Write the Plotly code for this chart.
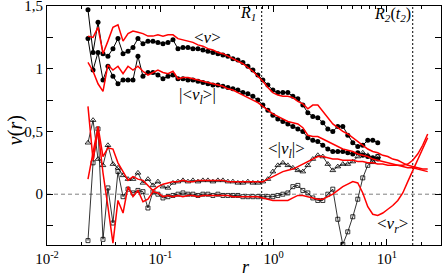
import math
import plotly.graph_objects as go

# radial grid (data points) and extended grid for the model curves
r_data = [0.0230, 0.0255, 0.0282, 0.0312, 0.0345, 0.0382, 0.0423, 0.0469, 0.0519, 0.0574,
          0.0635, 0.0703, 0.0778, 0.0861, 0.0953, 0.1056, 0.1169, 0.1294, 0.1432, 0.1585,
          0.1754, 0.1941, 0.2149, 0.2378, 0.2632, 0.2913, 0.3225, 0.3570, 0.3951, 0.4373,
          0.4840, 0.5358, 0.5930, 0.6564, 0.7265, 0.8041, 0.8900, 0.9851, 1.090, 1.207,
          1.336, 1.479, 1.637, 1.812, 2.005, 2.219, 2.456, 2.719, 3.010, 3.331,
          3.687, 4.081, 4.517, 5.000, 5.534, 6.125, 6.780, 7.504, 8.306]
r_model = r_data + [9.20, 10.19, 11.27, 12.48, 13.81, 15.28, 16.91, 18.71, 20.70, 22.91]

# <v>  (filled circles)
v_mean = [1.47, 1.13, 1.37, 1.12, 1.10, 1.16, 1.24, 1.12, 1.14, 1.17,
          1.24, 1.20, 1.22, 1.22, 1.21, 1.20, 1.21, 1.23, 1.16, 1.17,
          1.17, 1.16, 1.16, 1.15, 1.14, 1.13, 1.12, 1.11, 1.10, 1.08,
          1.07, 1.05, 1.02, 0.99, 0.95, 0.91, 0.87, 0.83, 0.81, 0.81,
          0.81, 0.78, 0.76, 0.71, 0.65, 0.62, 0.61, 0.57, 0.52, 0.50,
          0.54, 0.54, 0.47, 0.41, 0.38, 0.39, 0.43, 0.43, 0.41]
# |<v_l>|  (filled circles)
vl_abs_of_mean = [1.24, 0.99, 1.13, 0.91, 1.02, 0.94, 0.88, 0.91, 0.91, 0.91,
                  1.10, 0.94, 0.97, 0.97, 0.95, 0.92, 0.94, 0.95, 0.92, 0.92,
                  0.91, 0.91, 0.90, 0.89, 0.88, 0.87, 0.87, 0.86, 0.85, 0.84,
                  0.83, 0.81, 0.80, 0.78, 0.75, 0.71, 0.67, 0.63, 0.60, 0.58,
                  0.56, 0.54, 0.52, 0.50, 0.45, 0.43, 0.42, 0.39, 0.36, 0.34,
                  0.34, 0.34, 0.33, 0.32, 0.33, 0.31, 0.30, 0.29, 0.28]
# <|v_l|>  (open triangles)
vl_mean_of_abs = [0.41, 0.59, 0.28, 0.23, 0.39, 0.24, 0.21, 0.15, 0.12, 0.12,
                  0.17, 0.09, 0.12, 0.07, 0.10, 0.06, 0.05, 0.09, 0.10, 0.11,
                  0.10, 0.11, 0.10, 0.11, 0.11, 0.10, 0.11, 0.11, 0.10, 0.10,
                  0.09, 0.09, 0.10, 0.09, 0.09, 0.10, 0.12, 0.18, 0.23, 0.25,
                  0.23, 0.21, 0.19, 0.18, 0.23, 0.28, 0.31, 0.30, 0.24, 0.19,
                  0.22, 0.24, 0.24, 0.26, 0.30, 0.33, 0.31, 0.26, 0.30]
# <v_r>  (open squares)
vr_mean = [-0.37, 0.25, 0.52, -0.36, 0.05, -0.23, 0.18, -0.02, 0.04, 0.01,
           0.03, 0.02, -0.11, 0.02, 0.00, -0.03, -0.02, -0.01, 0.00, 0.01,
           0.00, 0.00, -0.01, 0.00, 0.00, -0.01, 0.00, -0.01, -0.01, -0.01,
           -0.01, -0.02, -0.02, -0.02, -0.02, -0.02, -0.02, -0.02, -0.01, 0.00,
           0.01, 0.06, 0.07, 0.03, 0.01, -0.03, -0.05, -0.05, 0.00, 0.04,
           -0.20, -0.40, -0.30, -0.18, -0.04, 0.13, 0.23, 0.26, 0.30]

# model curves (red)
model_v_mean = [1.26, 1.25, 1.33, 1.12, 1.22, 1.33, 1.35, 1.22, 1.28, 1.30,
                1.29, 1.28, 1.26, 1.26, 1.27, 1.26, 1.27, 1.27, 1.24, 1.23,
                1.22, 1.21, 1.19, 1.18, 1.16, 1.15, 1.13, 1.12, 1.10, 1.08,
                1.06, 1.04, 1.01, 0.98, 0.94, 0.90, 0.85, 0.81, 0.79, 0.78,
                0.78, 0.77, 0.74, 0.72, 0.68, 0.71, 0.71, 0.66, 0.61, 0.56,
                0.53, 0.50, 0.48, 0.45, 0.42, 0.39, 0.36, 0.34, 0.33, 0.31,
                0.30, 0.28, 0.27, 0.25, 0.23, 0.22, 0.21, 0.20, 0.20]
model_vl_abs_of_mean = [1.05, 0.98, 0.88, 0.82, 1.03, 0.99, 1.02, 0.96, 1.02, 0.99,
                        1.02, 0.98, 0.95, 0.97, 0.99, 0.97, 0.96, 0.98, 0.92, 0.93,
                        0.93, 0.92, 0.91, 0.90, 0.89, 0.88, 0.87, 0.86, 0.84, 0.83,
                        0.81, 0.79, 0.77, 0.75, 0.73, 0.70, 0.67, 0.64, 0.62, 0.60,
                        0.58, 0.57, 0.56, 0.53, 0.47, 0.46, 0.46, 0.44, 0.42, 0.40,
                        0.38, 0.36, 0.35, 0.34, 0.32, 0.31, 0.30, 0.28, 0.27, 0.26,
                        0.25, 0.24, 0.23, 0.22, 0.21, 0.21, 0.20, 0.19, 0.18]
model_vl_mean_of_abs = [0.12, 0.33, 0.54, 0.30, 0.37, 0.36, 0.25, 0.18, 0.11, 0.14,
                        0.12, 0.11, 0.07, 0.03, 0.06, 0.08, 0.09, 0.10, 0.10, 0.11,
                        0.10, 0.10, 0.11, 0.11, 0.11, 0.11, 0.11, 0.11, 0.10, 0.10,
                        0.10, 0.10, 0.10, 0.10, 0.10, 0.10, 0.12, 0.14, 0.16, 0.18,
                        0.19, 0.20, 0.22, 0.24, 0.26, 0.28, 0.30, 0.30, 0.29, 0.28,
                        0.28, 0.27, 0.27, 0.27, 0.26, 0.26, 0.25, 0.25, 0.24, 0.24,
                        0.23, 0.23, 0.23, 0.23, 0.24, 0.27, 0.32, 0.39, 0.48]
model_vr_mean = [0.70, 0.27, 0.51, 0.17, -0.10, -0.39, -0.05, -0.15, 0.06, -0.02,
                 0.03, -0.06, -0.04, 0.02, 0.01, -0.02, -0.01, -0.02, -0.01, -0.02,
                 -0.01, -0.01, -0.02, -0.01, -0.01, -0.01, -0.01, -0.01, -0.01, -0.02,
                 -0.02, -0.02, -0.02, -0.02, -0.02, -0.03, -0.04, -0.05, -0.05, -0.05,
                 -0.05, -0.03, -0.01, -0.01, -0.02, -0.03, -0.04, -0.04, -0.02, 0.00,
                 0.03, 0.06, 0.08, 0.10, 0.09, 0.01, -0.10, -0.16, -0.17, -0.15,
                 -0.12, -0.09, -0.05, 0.01, 0.10, 0.19, 0.28, 0.36, 0.45]

R1 = 0.785
R2 = 16.9
x_min, x_max = 0.01, 30.0
y_min, y_max = -0.405, 1.5

y_ticks = [0, 0.5, 1, 1.5]
y_labels = ["0", "0,5", "1", "1,5"]
x_ticks = [0.01, 0.1, 1, 10]
x_labels = ["10<sup>-2</sup>", "10<sup>-1</sup>", "10<sup>0</sup>", "10<sup>1</sup>"]

FONT = "Liberation Serif"
fig = go.Figure()

# reference lines
fig.add_trace(go.Scatter(x=[x_min, x_max], y=[0, 0], mode="lines",
                         line=dict(color="#808080", width=1, dash="4px,3px"), hoverinfo="skip"))
for rr in (R1, R2):
    fig.add_trace(go.Scatter(x=[rr, rr], y=[y_min, y_max], mode="lines",
                             line=dict(color="black", width=1, dash="2px,2px"), hoverinfo="skip"))

# data series
fig.add_trace(go.Scatter(x=r_data, y=v_mean, mode="lines+markers",
                         line=dict(color="black", width=1),
                         marker=dict(symbol="circle", size=5, color="black")))
fig.add_trace(go.Scatter(x=r_data, y=vl_abs_of_mean, mode="lines+markers",
                         line=dict(color="black", width=1),
                         marker=dict(symbol="circle", size=5, color="black")))
fig.add_trace(go.Scatter(x=r_data, y=vl_mean_of_abs, mode="lines+markers",
                         line=dict(color="black", width=0.8),
                         marker=dict(symbol="triangle-up-open", size=5, color="black",
                                     line=dict(width=0.8, color="black"))))
fig.add_trace(go.Scatter(x=r_data, y=vr_mean, mode="lines+markers",
                         line=dict(color="black", width=0.8),
                         marker=dict(symbol="square-open", size=4, color="black",
                                     line=dict(width=0.8, color="black"))))

# model curves
for ys in (model_v_mean, model_vl_abs_of_mean, model_vl_mean_of_abs, model_vr_mean):
    fig.add_trace(go.Scatter(x=r_model, y=ys, mode="lines",
                             line=dict(color="#ff0000", width=1.5)))

def ann(text, r, y, size=17, xanchor="center"):
    fig.add_annotation(x=math.log10(r), y=y, xref="x", yref="y", text=text,
                       showarrow=False, xanchor=xanchor, yanchor="middle",
                       font=dict(family=FONT, size=size, color="black"))

ann("&lt;<i>v</i>&gt;", 0.262, 1.25)
ann("|&lt;<i>v<sub>l</sub></i>&gt;|", 0.215, 0.78)
ann("<i>R<sub>1</sub></i>", 0.594, 1.44, size=16)
ann("<i>R<sub>2</sub></i>(<i>t<sub>2</sub></i>)", 11.1, 1.435, size=16)
ann("&lt;|<i>v<sub>l</sub></i>|&gt;", 1.30, 0.35)
ann("&lt;<i>v<sub>r</sub></i>&gt;", 11.3, -0.246)

# axis titles
fig.add_annotation(x=0.505, y=-0.09, xref="paper", yref="paper",
                   xanchor="center", yanchor="middle",
                   text="<i>r</i>", showarrow=False,
                   font=dict(family=FONT, size=18, color="black"))
fig.add_annotation(x=-0.081, y=0.481, xref="paper", yref="paper", textangle=-90,
                   xanchor="center", yanchor="middle",
                   text="<i>v</i>(<i>r</i>)", showarrow=False,
                   font=dict(family=FONT, size=20, color="black"))

axis_common = dict(showline=True, linecolor="black", linewidth=1, mirror="ticks",
                   ticks="inside", tickcolor="black", showgrid=False, zeroline=False,
                   automargin=False, ticklabeloverflow="allow",
                   tickfont=dict(family=FONT, size=15, color="black"))

fig.update_layout(
    width=443, height=277,
    margin=dict(l=47, r=2, t=6, b=32),
    paper_bgcolor="white", plot_bgcolor="white",
    showlegend=False,
    xaxis=dict(type="log", range=[-2, 1.4775], tickvals=x_ticks, ticktext=x_labels,
               ticklen=6,
               minor=dict(ticks="inside", ticklen=3, tickcolor="black", showgrid=False,
                          tickvals=[k * 10 ** e for e in (-2, -1, 0, 1) for k in range(2, 10)]),
               **axis_common),
    yaxis=dict(range=[y_min, y_max], tickvals=y_ticks, ticktext=y_labels, ticklen=6,
               minor=dict(ticks="inside", ticklen=6, tickcolor="black", showgrid=False,
                          tickvals=[-0.25, 0.25, 0.75, 1.25]),
               **axis_common),
)

fig.write_html("out.html", config={"displayModeBar": False},
               post_script="document.body.style.margin='0px';")
